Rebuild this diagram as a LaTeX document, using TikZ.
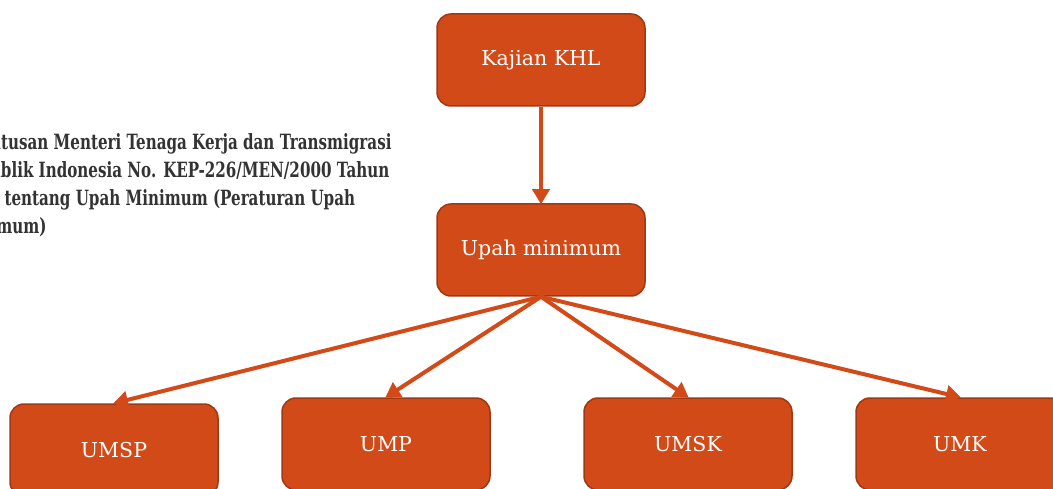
\documentclass[tikz,border=0pt]{standalone}
\usepackage{fontspec}
\usepackage{tikz}
\usetikzlibrary{arrows.meta}
\usetikzlibrary{positioning}
\newfontfamily\boxfont{DejaVu Serif}
\newfontfamily\notefont[FakeStretch=0.72]{DejaVu Serif Bold}
\definecolor{morange}{RGB}{210, 74, 24}
\definecolor{mdark}{RGB}{160, 56, 20}

\begin{document}
\begin{tikzpicture}[x=1pt, y=-1pt,
    box/.style={rectangle, rounded corners=14pt, fill=morange, draw=mdark, line width=1.5pt,
      minimum width=208pt, minimum height=92pt, text=white, font=\boxfont\fontsize{20.5}{24}\selectfont},
    link/.style={morange, line width=4pt, -{Triangle[width=17pt, length=15pt]}, shorten >=-1pt}]
    \useasboundingbox (0, 0) rectangle (1053, 489);

    \node [box] (khl) at (541, 60) {Kajian KHL};
    \node [box] (upah) at (541, 250) {Upah minimum};
    \node [box] (umsp) at (114, 450) {UMSP};
    \node [box] (ump) at (386, 444) {UMP};
    \node [box] (umsk) at (688, 444) {UMSK};
    \node [box] (umk) at (960, 444) {UMK};

    \draw [link] (khl) -- (upah);
    \foreach \n in {umsp, ump, umsk, umk} {
      \draw [link] (upah.south) -- (\n.north);
    };

    % legal basis, cut at the left edge
    \node [anchor=north west, inner sep=0, align=left, text=black!80,
      font=\notefont\fontsize{21}{28}\selectfont] (kep) at (-43, 133)
      {Keputusan Menteri Tenaga Kerja dan Transmigrasi\\
       Republik Indonesia No. KEP-226/MEN/2000 Tahun\\
       2000 tentang Upah Minimum (Peraturan Upah\\
       Minimum)};
  \end{tikzpicture}
\end{document}
